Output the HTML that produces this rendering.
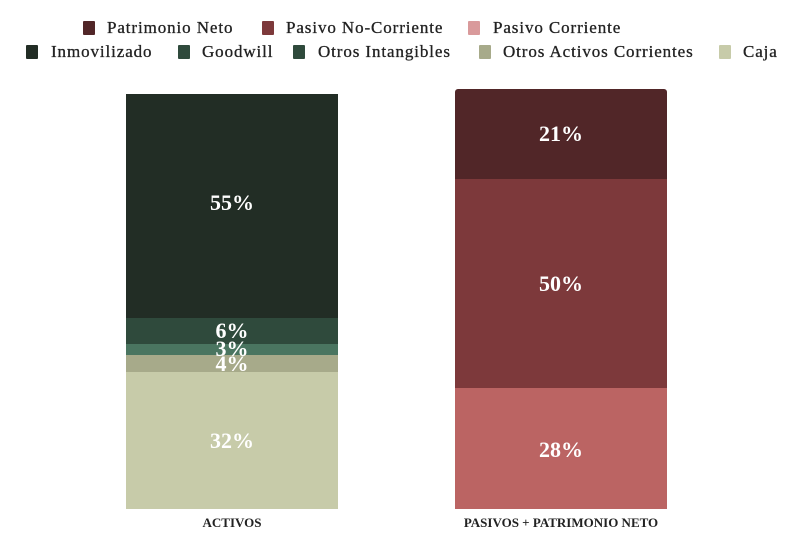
<!DOCTYPE html>
<html><head><meta charset="utf-8"><style>
body{margin:0;width:797px;height:538px;background:#fff;position:relative;overflow:hidden;font-family:"Liberation Serif",serif}
.m{position:absolute;width:12px;height:14px;border-radius:1px}
.t{position:absolute;font-size:17px;color:#222;line-height:18px;white-space:nowrap;letter-spacing:0.9px;-webkit-text-stroke:0.3px #222}
.s{position:absolute;}
.p{position:absolute;color:#fff;font-weight:bold;font-size:22px;width:212px;text-align:center;line-height:22px}
.x{position:absolute;font-weight:bold;font-size:13px;color:#222;text-align:center;top:515px}
</style></head><body>
<div class="m" style="left:83px;top:21px;background:#512628"></div><div class="t" style="left:107px;top:19px">Patrimonio Neto</div>
<div class="m" style="left:262px;top:21px;background:#7d393b"></div><div class="t" style="left:286px;top:19px">Pasivo No-Corriente</div>
<div class="m" style="left:468px;top:21px;background:#d99a9b"></div><div class="t" style="left:493px;top:19px">Pasivo Corriente</div>
<div class="m" style="left:26px;top:45px;background:#222d25"></div><div class="t" style="left:51px;top:43px">Inmovilizado</div>
<div class="m" style="left:178px;top:45px;background:#2f4a3c"></div><div class="t" style="left:202px;top:43px">Goodwill</div>
<div class="m" style="left:293px;top:45px;background:#2f4a3c"></div><div class="t" style="left:318px;top:43px">Otros Intangibles</div>
<div class="m" style="left:479px;top:45px;background:#a7aa8a"></div><div class="t" style="left:503px;top:43px">Otros Activos Corrientes</div>
<div class="m" style="left:719px;top:45px;background:#c7cba9"></div><div class="t" style="left:743px;top:43px">Caja</div>

<div class="s" style="left:126px;top:94px;width:212px;height:224px;background:#222d25"></div>
<div class="s" style="left:126px;top:318px;width:212px;height:26px;background:#2f4a3c"></div>
<div class="s" style="left:126px;top:344px;width:212px;height:11px;background:#4a7560"></div>
<div class="s" style="left:126px;top:355px;width:212px;height:17px;background:#a7aa8a"></div>
<div class="s" style="left:126px;top:372px;width:212px;height:137px;background:#c7cba9"></div>
<div class="p" style="left:126px;top:192px">55%</div>
<div class="p" style="left:126px;top:320px">6%</div>
<div class="p" style="left:126px;top:338px">3%</div>
<div class="p" style="left:126px;top:353px">4%</div>
<div class="p" style="left:126px;top:430px">32%</div>

<div class="s" style="left:455px;top:89px;width:212px;height:90px;background:#512628;border-radius:3px 3px 0 0"></div>
<div class="s" style="left:455px;top:179px;width:212px;height:209px;background:#7d393b"></div>
<div class="s" style="left:455px;top:388px;width:212px;height:121px;background:#bb6463"></div>
<div class="p" style="left:455px;top:123px">21%</div>
<div class="p" style="left:455px;top:273px">50%</div>
<div class="p" style="left:455px;top:439px">28%</div>

<div class="x" style="left:126px;width:212px">ACTIVOS</div>
<div class="x" style="left:411px;width:300px">PASIVOS + PATRIMONIO NETO</div>
</body></html>
